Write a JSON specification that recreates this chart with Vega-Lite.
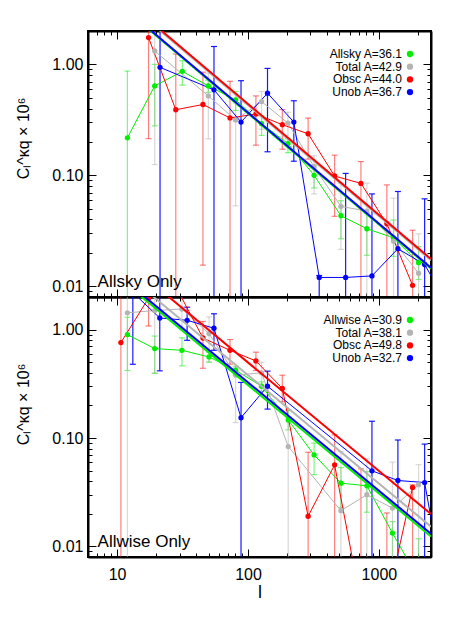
{
"$schema":"https://vega.github.io/schema/vega-lite/v6.json",
"background":"white",
"padding":{"left":14,"top":22,"right":30,"bottom":5},
"config":{"font":"Liberation Sans","view":{"stroke":"black","strokeWidth":2},
"axis":{"grid":false,"domainColor":"black","domainWidth":2,"tickColor":"black","tickWidth":1,"labelColor":"black","titleColor":"black","labelFont":"Liberation Sans","titleFont":"Liberation Sans","titleFontWeight":"normal","labelOverlap":false}},
"datasets":{
"topPts":[
{"s":"Allsky","l":12,"C":0.218,"lo":0.001,"hi":0.87},
{"s":"Allsky","l":19.4,"C":0.64,"lo":0.279,"hi":1.0},
{"s":"Allsky","l":31.5,"C":0.866,"lo":0.65,"hi":1.08},
{"s":"Allsky","l":49.8,"C":0.64,"lo":0.56,"hi":0.72},
{"s":"Allsky","l":80.5,"C":0.479,"lo":0.384,"hi":0.57},
{"s":"Allsky","l":127,"C":0.292,"lo":0.229,"hi":0.343},
{"s":"Allsky","l":202,"C":0.193,"lo":0.16,"hi":0.214},
{"s":"Allsky","l":320,"C":0.1,"lo":0.077,"hi":0.124},
{"s":"Allsky","l":513,"C":0.0432,"lo":0.0268,"hi":0.059},
{"s":"Allsky","l":809,"C":0.033,"lo":0.019,"hi":0.046},
{"s":"Allsky","l":1294,"C":0.0273,"lo":0.0186,"hi":0.0396},
{"s":"Allsky","l":2010,"C":0.0163,"lo":0.0115,"hi":0.0228},
{"s":"Total","l":19.4,"C":1.32,"lo":0.125,"hi":5},
{"s":"Total","l":49.8,"C":0.52,"lo":0.213,"hi":0.83},
{"s":"Total","l":80.5,"C":0.315,"lo":0.053,"hi":0.45},
{"s":"Total","l":127,"C":0.462,"lo":0.26,"hi":0.57},
{"s":"Total","l":202,"C":0.296,"lo":0.2,"hi":0.37},
{"s":"Total","l":320,"C":0.119,"lo":0.068,"hi":0.15},
{"s":"Total","l":513,"C":0.0525,"lo":0.0215,"hi":0.085},
{"s":"Total","l":809,"C":0.0476,"lo":0.001,"hi":0.085},
{"s":"Total","l":1294,"C":0.0255,"lo":0.001,"hi":0.0623},
{"s":"Total","l":2010,"C":0.0131,"lo":0.001,"hi":0.0297},
{"s":"Obsc","l":17.4,"C":1.745,"lo":0.214,"hi":5},
{"s":"Obsc","l":28.1,"C":0.39,"lo":0.001,"hi":1.24},
{"s":"Obsc","l":45.3,"C":0.435,"lo":0.0155,"hi":0.85},
{"s":"Obsc","l":72.9,"C":0.329,"lo":0.001,"hi":0.704},
{"s":"Obsc","l":115,"C":0.357,"lo":0.187,"hi":0.52},
{"s":"Obsc","l":183,"C":0.286,"lo":0.172,"hi":0.392},
{"s":"Obsc","l":288,"C":0.237,"lo":0.14,"hi":0.328},
{"s":"Obsc","l":459,"C":0.0986,"lo":0.0427,"hi":0.152},
{"s":"Obsc","l":729,"C":0.0846,"lo":0.001,"hi":0.133},
{"s":"Obsc","l":1150,"C":0.0366,"lo":0.001,"hi":0.082},
{"s":"Obsc","l":1808,"C":0.0102,"lo":0.001,"hi":0.032},
{"s":"Unob","l":21.3,"C":0.94,"lo":0.001,"hi":5},
{"s":"Unob","l":55,"C":0.59,"lo":0.001,"hi":1.45},
{"s":"Unob","l":88.5,"C":0.302,"lo":0.001,"hi":0.713},
{"s":"Unob","l":141,"C":0.55,"lo":0.163,"hi":0.92},
{"s":"Unob","l":224,"C":0.302,"lo":0.134,"hi":0.47},
{"s":"Unob","l":350,"C":0.012,"lo":0.001,"hi":0.0125},
{"s":"Unob","l":557,"C":0.012,"lo":0.001,"hi":0.104},
{"s":"Unob","l":885,"C":0.0124,"lo":0.001,"hi":0.068},
{"s":"Unob","l":1397,"C":0.0218,"lo":0.001,"hi":0.0715},
{"s":"Unob","l":2235,"C":0.0157,"lo":0.001,"hi":0.0614},
{"s":"Unob","l":2900,"C":0.0092,"lo":0.0092,"hi":0.0092}
],
"topFit":[
{"s":"Total","l":6,"C":7.15},{"s":"Total","l":2500,"C":0.01716},
{"s":"Allsky","l":6,"C":6.017},{"s":"Allsky","l":2500,"C":0.01444},
{"s":"Obsc","l":6,"C":7.333},{"s":"Obsc","l":2500,"C":0.0176},
{"s":"Unob","l":6,"C":6.117},{"s":"Unob","l":2500,"C":0.01468}
],
"botPts":[
{"s":"Allwise","l":12,"C":0.9,"lo":0.42,"hi":1.3},
{"s":"Allwise","l":19.4,"C":0.669,"lo":0.394,"hi":0.873},
{"s":"Allwise","l":31.3,"C":0.645,"lo":0.463,"hi":0.84},
{"s":"Allwise","l":50.4,"C":0.56,"lo":0.5,"hi":0.62},
{"s":"Allwise","l":80.5,"C":0.422,"lo":0.38,"hi":0.46},
{"s":"Allwise","l":127,"C":0.301,"lo":0.27,"hi":0.33},
{"s":"Allwise","l":203,"C":0.147,"lo":0.119,"hi":0.182},
{"s":"Allwise","l":320,"C":0.0699,"lo":0.046,"hi":0.09},
{"s":"Allwise","l":513,"C":0.0384,"lo":0.0229,"hi":0.0535},
{"s":"Allwise","l":809,"C":0.0363,"lo":0.0207,"hi":0.049},
{"s":"Allwise","l":1270,"C":0.0133,"lo":0.001,"hi":0.017},
{"s":"Allwise","l":2010,"C":0.005,"lo":0.001,"hi":0.0118},
{"s":"Total","l":12,"C":1.43,"lo":0.001,"hi":5},
{"s":"Total","l":19.4,"C":1.5,"lo":0.4,"hi":5},
{"s":"Total","l":31.3,"C":1.55,"lo":1.0,"hi":5},
{"s":"Total","l":50.4,"C":0.92,"lo":0.504,"hi":1.31},
{"s":"Total","l":80.5,"C":0.38,"lo":0.139,"hi":0.45},
{"s":"Total","l":127,"C":0.4,"lo":0.3,"hi":0.5},
{"s":"Total","l":203,"C":0.0834,"lo":0.001,"hi":0.18},
{"s":"Total","l":513,"C":0.0214,"lo":0.001,"hi":0.075},
{"s":"Total","l":809,"C":0.03,"lo":0.001,"hi":0.0645},
{"s":"Total","l":1270,"C":0.0226,"lo":0.001,"hi":0.06},
{"s":"Total","l":2010,"C":0.0372,"lo":0.001,"hi":0.0568},
{"s":"Obsc","l":10.7,"C":0.76,"lo":0.001,"hi":5},
{"s":"Obsc","l":17.4,"C":1.95,"lo":1.08,"hi":5},
{"s":"Obsc","l":28.1,"C":2.5,"lo":2.1,"hi":5},
{"s":"Obsc","l":45.3,"C":0.837,"lo":0.44,"hi":1.19},
{"s":"Obsc","l":72.9,"C":0.645,"lo":0.48,"hi":0.81},
{"s":"Obsc","l":115,"C":0.514,"lo":0.42,"hi":0.62},
{"s":"Obsc","l":183,"C":0.287,"lo":0.216,"hi":0.38},
{"s":"Obsc","l":288,"C":0.019,"lo":0.001,"hi":0.074},
{"s":"Obsc","l":459,"C":0.0566,"lo":0.001,"hi":0.107},
{"s":"Obsc","l":729,"C":0.003,"lo":0.001,"hi":0.052},
{"s":"Obsc","l":1150,"C":0.003,"lo":0.001,"hi":0.0204},
{"s":"Obsc","l":1808,"C":0.035,"lo":0.001,"hi":0.037},
{"s":"Unob","l":13.2,"C":2.2,"lo":0.479,"hi":5},
{"s":"Unob","l":21.2,"C":1.28,"lo":0.417,"hi":5},
{"s":"Unob","l":34.3,"C":1.22,"lo":0.797,"hi":1.61},
{"s":"Unob","l":55,"C":1.03,"lo":0.645,"hi":1.4},
{"s":"Unob","l":88.5,"C":0.154,"lo":0.001,"hi":0.326},
{"s":"Unob","l":141,"C":0.301,"lo":0.185,"hi":0.414},
{"s":"Unob","l":885,"C":0.0499,"lo":0.001,"hi":0.143},
{"s":"Unob","l":1397,"C":0.0406,"lo":0.001,"hi":0.096},
{"s":"Unob","l":2235,"C":0.0389,"lo":0.001,"hi":0.088},
{"s":"Unob","l":2900,"C":0.0067,"lo":0.0067,"hi":0.0067}
],
"botFit":[
{"s":"Total","l":6,"C":6.35},{"s":"Total","l":2500,"C":0.01524},
{"s":"Allwise","l":6,"C":5.15},{"s":"Allwise","l":2500,"C":0.01236},
{"s":"Obsc","l":6,"C":8.3},{"s":"Obsc","l":2500,"C":0.01992},
{"s":"Unob","l":6,"C":5.45},{"s":"Unob","l":2500,"C":0.01308}
]
},
"vconcat":[
{
"width":343,"height":266,
"layer":[
{"data":{"name":"topPts"},"transform":[{"filter":"datum.s != 'Unob'"}],"mark":{"type":"errorbar","clip":true,"thickness":1.2,"rule":{"opacity":0.5},"ticks":{"size":6,"opacity":0.5}},
"encoding":{"x":{"field":"l","type":"quantitative","scale":{"type":"log","domain":[6,2500],"nice":false},"axis":null},
"y":{"field":"lo","type":"quantitative","scale":{"type":"log","domain":[0.008,2],"nice":false},"axis":null},
"y2":{"field":"hi"},
"color":{"field":"s","type":"nominal","scale":{"domain":["Allsky","Total","Obsc","Unob"],"range":["#00ee00","#b4b4b4","#ff0000","#0000ff"]}}}},
{"data":{"name":"topPts"},"transform":[{"filter":"datum.s == 'Unob'"}],"mark":{"type":"errorbar","clip":true,"thickness":1.2,"rule":{"opacity":0.9},"ticks":{"size":6,"opacity":0.9}},
"encoding":{"x":{"field":"l","type":"quantitative","axis":null},
"y":{"field":"lo","type":"quantitative","axis":null},
"y2":{"field":"hi"},
"color":{"field":"s","type":"nominal"}}},
{"data":{"name":"topPts"},"mark":{"type":"line","strokeWidth":1,"clip":true},
"encoding":{"x":{"field":"l","type":"quantitative","axis":null},"y":{"field":"C","type":"quantitative","axis":null},
"color":{"field":"s","type":"nominal"}}},
{"data":{"name":"topPts"},"mark":{"type":"circle","size":28,"opacity":1,"clip":true},
"encoding":{"x":{"field":"l","type":"quantitative","axis":{"orient":"bottom","values":[6,7,8,9,10,20,30,40,50,60,70,80,90,100,200,300,400,500,600,700,800,900,1000,2000],"labels":false,"title":null,"tickSize":{"condition":{"test":"datum.value==10||datum.value==100||datum.value==1000","value":-8},"value":-4}}},
"y":{"field":"C","type":"quantitative","axis":{"orient":"left","values":[0.008,0.009,0.01,0.02,0.03,0.04,0.05,0.06,0.07,0.08,0.09,0.1,0.2,0.3,0.4,0.5,0.6,0.7,0.8,0.9,1,2],"format":".2f","labelExpr":"(datum.value==0.01||datum.value==0.1||datum.value==1)?datum.label:''","tickSize":{"condition":{"test":"datum.value==0.01||datum.value==0.1||datum.value==1","value":-8},"value":-4},"labelPadding":13,"labelFontSize":16,"title":"Cₗ^κq × 10⁶","titleFontSize":16,"titlePadding":20,"titleY":107}},
"color":{"field":"s","type":"nominal","legend":{"orient":"top-right","offset":17,"title":null,"padding":0,"labelAlign":"right","labelOffset":-14,"labelFontSize":12,"labelFont":"Liberation Sans","labelColor":"black","symbolType":"circle","symbolSize":40,"symbolStrokeWidth":0,"symbolOpacity":1,"rowPadding":0.7,"encode":{"symbols":{"update":{"opacity":{"value":1},"fillOpacity":{"value":1},"strokeOpacity":{"value":0}}}},"labelExpr":"datum.label=='Allsky'?'Allsky A=36.1':datum.label=='Total'?'Total A=42.9':datum.label=='Obsc'?'Obsc A=44.0':'Unob A=36.7'"}}}},
{"data":{"name":"topFit"},"mark":{"type":"line","strokeWidth":2,"clip":true},
"encoding":{"x":{"field":"l","type":"quantitative","axis":{"orient":"top","values":[6,7,8,9,10,20,30,40,50,60,70,80,90,100,200,300,400,500,600,700,800,900,1000,2000],"labels":false,"title":null,"tickSize":{"condition":{"test":"datum.value==10||datum.value==100||datum.value==1000","value":-8},"value":-4}}},
"y":{"field":"C","type":"quantitative","axis":{"orient":"right","values":[0.008,0.009,0.01,0.02,0.03,0.04,0.05,0.06,0.07,0.08,0.09,0.1,0.2,0.3,0.4,0.5,0.6,0.7,0.8,0.9,1,2],"labels":false,"title":null,"tickSize":{"condition":{"test":"datum.value==0.01||datum.value==0.1||datum.value==1","value":-8},"value":-4}}},
"color":{"field":"s","type":"nominal"}}},
{"data":{"values":[{"label":"Allsky Only"}]},"mark":{"type":"text","align":"left","baseline":"alphabetic","fontSize":17,"font":"Liberation Sans","color":"black"},
"encoding":{"x":{"datum":7.1,"type":"quantitative","axis":null},"y":{"datum":0.0099,"type":"quantitative","axis":null},"text":{"field":"label"}}}
],
"resolve":{"axis":{"x":"independent","y":"independent"}}
},
{
"width":343,"height":260,
"layer":[
{"data":{"name":"botPts"},"transform":[{"filter":"datum.s != 'Unob'"}],"mark":{"type":"errorbar","clip":true,"thickness":1.2,"rule":{"opacity":0.5},"ticks":{"size":6,"opacity":0.5}},
"encoding":{"x":{"field":"l","type":"quantitative","scale":{"type":"log","domain":[6,2500],"nice":false},"axis":null},
"y":{"field":"lo","type":"quantitative","scale":{"type":"log","domain":[0.008,2],"nice":false},"axis":null},
"y2":{"field":"hi"},
"color":{"field":"s","type":"nominal","scale":{"domain":["Allwise","Total","Obsc","Unob"],"range":["#00ee00","#b4b4b4","#ff0000","#0000ff"]}}}},
{"data":{"name":"botPts"},"transform":[{"filter":"datum.s == 'Unob'"}],"mark":{"type":"errorbar","clip":true,"thickness":1.2,"rule":{"opacity":0.9},"ticks":{"size":6,"opacity":0.9}},
"encoding":{"x":{"field":"l","type":"quantitative","axis":null},
"y":{"field":"lo","type":"quantitative","axis":null},
"y2":{"field":"hi"},
"color":{"field":"s","type":"nominal"}}},
{"data":{"name":"botPts"},"mark":{"type":"line","strokeWidth":1,"clip":true},
"encoding":{"x":{"field":"l","type":"quantitative","axis":null},"y":{"field":"C","type":"quantitative","axis":null},
"color":{"field":"s","type":"nominal"}}},
{"data":{"name":"botPts"},"mark":{"type":"circle","size":28,"opacity":1,"clip":true},
"encoding":{"x":{"field":"l","type":"quantitative","axis":{"orient":"bottom","values":[6,7,8,9,10,20,30,40,50,60,70,80,90,100,200,300,400,500,600,700,800,900,1000,2000],"format":"d","labelExpr":"(datum.value==10||datum.value==100||datum.value==1000)?datum.label:''","labelPadding":17,"labelFontSize":16,"labelFlush":false,"title":"l","titleFontSize":18,"titlePadding":-3,"tickSize":{"condition":{"test":"datum.value==10||datum.value==100||datum.value==1000","value":-8},"value":-4}}},
"y":{"field":"C","type":"quantitative","axis":{"orient":"left","values":[0.008,0.009,0.01,0.02,0.03,0.04,0.05,0.06,0.07,0.08,0.09,0.1,0.2,0.3,0.4,0.5,0.6,0.7,0.8,0.9,1,2],"format":".2f","labelExpr":"(datum.value==0.01||datum.value==0.1||datum.value==1)?datum.label:''","tickSize":{"condition":{"test":"datum.value==0.01||datum.value==0.1||datum.value==1","value":-8},"value":-4},"labelPadding":13,"labelFontSize":16,"title":"Cₗ^κq × 10⁶","titleFontSize":16,"titlePadding":20,"titleY":107}},
"color":{"field":"s","type":"nominal","legend":{"orient":"top-right","offset":17,"title":null,"padding":0,"labelAlign":"right","labelOffset":-14,"labelFontSize":12,"labelFont":"Liberation Sans","labelColor":"black","symbolType":"circle","symbolSize":40,"symbolStrokeWidth":0,"symbolOpacity":1,"rowPadding":0.7,"encode":{"symbols":{"update":{"opacity":{"value":1},"fillOpacity":{"value":1},"strokeOpacity":{"value":0}}}},"labelExpr":"datum.label=='Allwise'?'Allwise A=30.9':datum.label=='Total'?'Total A=38.1':datum.label=='Obsc'?'Obsc A=49.8':'Unob A=32.7'"}}}},
{"data":{"name":"botFit"},"mark":{"type":"line","strokeWidth":2,"clip":true},
"encoding":{"x":{"field":"l","type":"quantitative","axis":{"orient":"top","values":[6,7,8,9,10,20,30,40,50,60,70,80,90,100,200,300,400,500,600,700,800,900,1000,2000],"labels":false,"title":null,"tickSize":{"condition":{"test":"datum.value==10||datum.value==100||datum.value==1000","value":-8},"value":-4}}},
"y":{"field":"C","type":"quantitative","axis":{"orient":"right","values":[0.008,0.009,0.01,0.02,0.03,0.04,0.05,0.06,0.07,0.08,0.09,0.1,0.2,0.3,0.4,0.5,0.6,0.7,0.8,0.9,1,2],"labels":false,"title":null,"tickSize":{"condition":{"test":"datum.value==0.01||datum.value==0.1||datum.value==1","value":-8},"value":-4}}},
"color":{"field":"s","type":"nominal"}}},
{"data":{"values":[{"label":"Allwise Only"}]},"mark":{"type":"text","align":"left","baseline":"alphabetic","fontSize":17,"font":"Liberation Sans","color":"black"},
"encoding":{"x":{"datum":7.1,"type":"quantitative","axis":null},"y":{"datum":0.0099,"type":"quantitative","axis":null},"text":{"field":"label"}}}
],
"resolve":{"axis":{"x":"independent","y":"independent"}}
}
],
"spacing":0,
"bounds":"flush",
"resolve":{"scale":{"color":"independent"},"legend":{"color":"independent"}}
}
